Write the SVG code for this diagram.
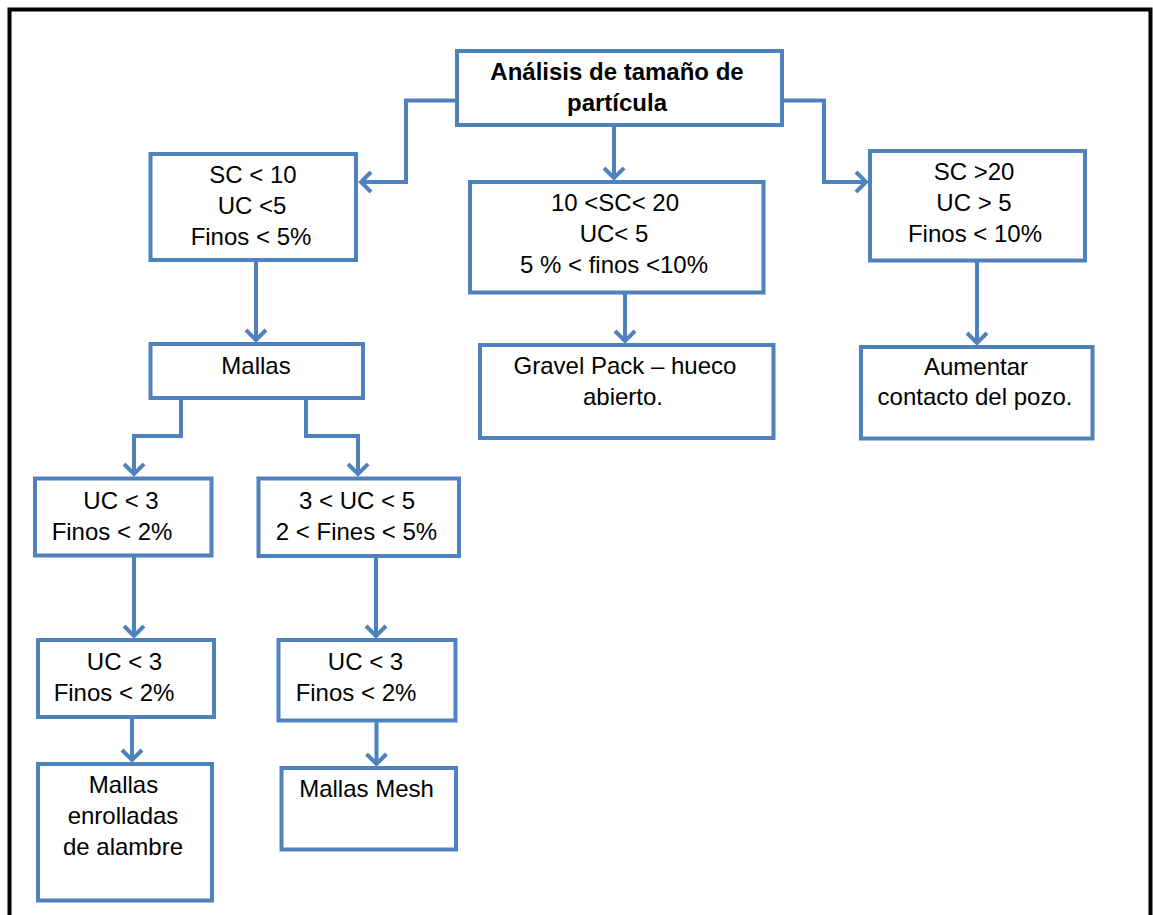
<svg xmlns="http://www.w3.org/2000/svg" width="1153" height="915" viewBox="0 0 1153 915">
<style>
.box{fill:#fff;stroke:#4F81BD;stroke-width:4}
.t{font-family:"Liberation Sans",Arial,sans-serif;font-size:24px;fill:#000;text-anchor:middle}
.b{font-weight:bold;font-size:24px}
.c{fill:none;stroke:#4F81BD;stroke-width:4}
</style>
<defs>
<marker id="ah" markerUnits="userSpaceOnUse" markerWidth="30" markerHeight="30" viewBox="-15 -15 30 30" refX="0" refY="0" orient="auto">
<path d="M-10,-10 L0,0 L-10,10" fill="none" stroke="#4F81BD" stroke-width="4" stroke-linejoin="miter"/>
</marker>
</defs>
<rect x="0" y="0" width="1153" height="915" fill="#fff"/>
<path d="M9.5,930 V9.5 H1150.5 V930" fill="none" stroke="#000" stroke-width="4"/>
<g id="connectors">
<path class="c" d="M457,100.5 H406 V182 H361" marker-end="url(#ah)"/>
<path class="c" d="M782,100.5 H824 V182 H866" marker-end="url(#ah)"/>
<path class="c" d="M614,125 V178" marker-end="url(#ah)"/>
<path class="c" d="M256,260 V340" marker-end="url(#ah)"/>
<path class="c" d="M625,292.5 V341" marker-end="url(#ah)"/>
<path class="c" d="M977,262 V343" marker-end="url(#ah)"/>
<path class="c" d="M181,398 V436 H134 V474" marker-end="url(#ah)"/>
<path class="c" d="M306,398 V436 H358 V474" marker-end="url(#ah)"/>
<path class="c" d="M134,556 V636" marker-end="url(#ah)"/>
<path class="c" d="M376,556 V636" marker-end="url(#ah)"/>
<path class="c" d="M132,717 V760" marker-end="url(#ah)"/>
<path class="c" d="M376.5,720.5 V764" marker-end="url(#ah)"/>
</g>
<g id="n-analisis">
<rect class="box" x="457" y="51" width="325" height="74"/>
<text class="t b" x="617" y="80">Análisis de tamaño de</text>
<text class="t b" x="617" y="110.5">partícula</text>
</g>
<g id="n-sc10">
<rect class="box" x="150.5" y="154" width="205.5" height="106"/>
<text class="t" x="253" y="183">SC &lt; 10</text>
<text class="t" x="252" y="213.5">UC &lt;5</text>
<text class="t" x="251" y="245">Finos &lt; 5%</text>
</g>
<g id="n-sc1020">
<rect class="box" x="470" y="182" width="293.5" height="110.5"/>
<text class="t" x="615" y="210.5">10 &lt;SC&lt; 20</text>
<text class="t" x="614" y="241.5">UC&lt; 5</text>
<text class="t" x="614" y="272.5">5 % &lt; finos &lt;10%</text>
</g>
<g id="n-sc20">
<rect class="box" x="870" y="151" width="215" height="109.5"/>
<text class="t" x="974" y="180">SC &gt;20</text>
<text class="t" x="974" y="210.5">UC &gt; 5</text>
<text class="t" x="975" y="242">Finos &lt; 10%</text>
</g>
<g id="n-mallas">
<rect class="box" x="150.5" y="344" width="212.5" height="54"/>
<text class="t" x="256" y="373.5">Mallas</text>
</g>
<g id="n-gravel">
<rect class="box" x="480" y="345" width="293.5" height="93"/>
<text class="t" x="625" y="373.5">Gravel Pack – hueco</text>
<text class="t" x="623" y="405">abierto.</text>
</g>
<g id="n-aumentar">
<rect class="box" x="861" y="347" width="231.5" height="91.5"/>
<text class="t" x="976" y="375">Aumentar</text>
<text class="t" x="975" y="405">contacto del pozo.</text>
</g>
<g id="n-uc3a">
<rect class="box" x="35" y="478.5" width="176.5" height="77"/>
<text class="t" x="121" y="508.5">UC &lt; 3</text>
<text class="t" x="112" y="539.5">Finos &lt; 2%</text>
</g>
<g id="n-uc35">
<rect class="box" x="258.5" y="478.5" width="200.5" height="77.5"/>
<text class="t" x="357" y="508.5">3 &lt; UC &lt; 5</text>
<text class="t" x="356.5" y="539.5">2 &lt; Fines &lt; 5%</text>
</g>
<g id="n-uc3b">
<rect class="box" x="38" y="640" width="176" height="77"/>
<text class="t" x="124.5" y="670">UC &lt; 3</text>
<text class="t" x="114" y="700.5">Finos &lt; 2%</text>
</g>
<g id="n-uc3c">
<rect class="box" x="278.5" y="640" width="177" height="80.5"/>
<text class="t" x="365.5" y="670">UC &lt; 3</text>
<text class="t" x="356" y="700.5">Finos &lt; 2%</text>
</g>
<g id="n-enrolladas">
<rect class="box" x="38" y="764" width="174" height="136.5"/>
<text class="t" x="123.5" y="792.5">Mallas</text>
<text class="t" x="123" y="823.5">enrolladas</text>
<text class="t" x="123" y="855">de alambre</text>
</g>
<g id="n-mesh">
<rect class="box" x="281.5" y="768" width="174.5" height="81.5"/>
<text class="t" x="366.5" y="796.5">Mallas Mesh</text>
</g>
</svg>
